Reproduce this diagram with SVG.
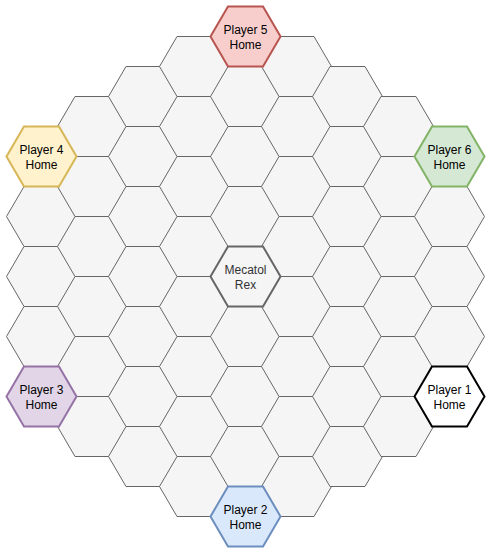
<svg xmlns="http://www.w3.org/2000/svg" xmlns:xlink="http://www.w3.org/1999/xlink" width="491" height="554" viewBox="0 0 491 554">
<style>
.t{fill:#f5f5f5;stroke:#666666;stroke-width:1}
.mr{fill:#f5f5f5;stroke:#666666;stroke-width:2}
.p1{fill:#ffffff;stroke:#000000;stroke-width:2}
.p2{fill:#dae8fc;stroke:#6c8ebf;stroke-width:2}
.p3{fill:#e1d5e7;stroke:#9673a6;stroke-width:2}
.p4{fill:#fff2cc;stroke:#d6b656;stroke-width:2}
.p5{fill:#f8cecc;stroke:#b85450;stroke-width:2}
.p6{fill:#d5e8d4;stroke:#82b366;stroke-width:2}
.l{font-family:"Liberation Sans",Arial,Helvetica,sans-serif;font-size:12px;text-anchor:middle;fill:#000000}
.lg{fill:#333333}
</style>
<defs>
<polygon id="h" points="-35,0 -17.5,-30 17.5,-30 35,0 17.5,30 -17.5,30"/>
</defs>
<rect width="491" height="554" fill="#ffffff"/>
<g id="grid">
<g id="h_m4_1"><use xlink:href="#h" class="t" x="41.5" y="216.5"/></g>
<g id="h_m4_2"><use xlink:href="#h" class="t" x="41.5" y="276.5"/></g>
<g id="h_m4_3"><use xlink:href="#h" class="t" x="41.5" y="336.5"/></g>
<g id="h_m3_0"><use xlink:href="#h" class="t" x="92.5" y="126.5"/></g>
<g id="h_m3_1"><use xlink:href="#h" class="t" x="92.5" y="186.5"/></g>
<g id="h_m3_2"><use xlink:href="#h" class="t" x="92.5" y="246.5"/></g>
<g id="h_m3_3"><use xlink:href="#h" class="t" x="92.5" y="306.5"/></g>
<g id="h_m3_4"><use xlink:href="#h" class="t" x="92.5" y="366.5"/></g>
<g id="h_m3_5"><use xlink:href="#h" class="t" x="92.5" y="426.5"/></g>
<g id="h_m2_0"><use xlink:href="#h" class="t" x="143.5" y="96.5"/></g>
<g id="h_m2_1"><use xlink:href="#h" class="t" x="143.5" y="156.5"/></g>
<g id="h_m2_2"><use xlink:href="#h" class="t" x="143.5" y="216.5"/></g>
<g id="h_m2_3"><use xlink:href="#h" class="t" x="143.5" y="276.5"/></g>
<g id="h_m2_4"><use xlink:href="#h" class="t" x="143.5" y="336.5"/></g>
<g id="h_m2_5"><use xlink:href="#h" class="t" x="143.5" y="396.5"/></g>
<g id="h_m2_6"><use xlink:href="#h" class="t" x="143.5" y="456.5"/></g>
<g id="h_m1_0"><use xlink:href="#h" class="t" x="194.5" y="66.5"/></g>
<g id="h_m1_1"><use xlink:href="#h" class="t" x="194.5" y="126.5"/></g>
<g id="h_m1_2"><use xlink:href="#h" class="t" x="194.5" y="186.5"/></g>
<g id="h_m1_3"><use xlink:href="#h" class="t" x="194.5" y="246.5"/></g>
<g id="h_m1_4"><use xlink:href="#h" class="t" x="194.5" y="306.5"/></g>
<g id="h_m1_5"><use xlink:href="#h" class="t" x="194.5" y="366.5"/></g>
<g id="h_m1_6"><use xlink:href="#h" class="t" x="194.5" y="426.5"/></g>
<g id="h_m1_7"><use xlink:href="#h" class="t" x="194.5" y="486.5"/></g>
<g id="h_0_1"><use xlink:href="#h" class="t" x="245.5" y="96.5"/></g>
<g id="h_0_2"><use xlink:href="#h" class="t" x="245.5" y="156.5"/></g>
<g id="h_0_3"><use xlink:href="#h" class="t" x="245.5" y="216.5"/></g>
<g id="h_0_5"><use xlink:href="#h" class="t" x="245.5" y="336.5"/></g>
<g id="h_0_6"><use xlink:href="#h" class="t" x="245.5" y="396.5"/></g>
<g id="h_0_7"><use xlink:href="#h" class="t" x="245.5" y="456.5"/></g>
<g id="h_1_0"><use xlink:href="#h" class="t" x="296.5" y="66.5"/></g>
<g id="h_1_1"><use xlink:href="#h" class="t" x="296.5" y="126.5"/></g>
<g id="h_1_2"><use xlink:href="#h" class="t" x="296.5" y="186.5"/></g>
<g id="h_1_3"><use xlink:href="#h" class="t" x="296.5" y="246.5"/></g>
<g id="h_1_4"><use xlink:href="#h" class="t" x="296.5" y="306.5"/></g>
<g id="h_1_5"><use xlink:href="#h" class="t" x="296.5" y="366.5"/></g>
<g id="h_1_6"><use xlink:href="#h" class="t" x="296.5" y="426.5"/></g>
<g id="h_1_7"><use xlink:href="#h" class="t" x="296.5" y="486.5"/></g>
<g id="h_2_0"><use xlink:href="#h" class="t" x="347.5" y="96.5"/></g>
<g id="h_2_1"><use xlink:href="#h" class="t" x="347.5" y="156.5"/></g>
<g id="h_2_2"><use xlink:href="#h" class="t" x="347.5" y="216.5"/></g>
<g id="h_2_3"><use xlink:href="#h" class="t" x="347.5" y="276.5"/></g>
<g id="h_2_4"><use xlink:href="#h" class="t" x="347.5" y="336.5"/></g>
<g id="h_2_5"><use xlink:href="#h" class="t" x="347.5" y="396.5"/></g>
<g id="h_2_6"><use xlink:href="#h" class="t" x="347.5" y="456.5"/></g>
<g id="h_3_0"><use xlink:href="#h" class="t" x="398.5" y="126.5"/></g>
<g id="h_3_1"><use xlink:href="#h" class="t" x="398.5" y="186.5"/></g>
<g id="h_3_2"><use xlink:href="#h" class="t" x="398.5" y="246.5"/></g>
<g id="h_3_3"><use xlink:href="#h" class="t" x="398.5" y="306.5"/></g>
<g id="h_3_4"><use xlink:href="#h" class="t" x="398.5" y="366.5"/></g>
<g id="h_3_5"><use xlink:href="#h" class="t" x="398.5" y="426.5"/></g>
<g id="h_4_1"><use xlink:href="#h" class="t" x="449.5" y="216.5"/></g>
<g id="h_4_2"><use xlink:href="#h" class="t" x="449.5" y="276.5"/></g>
<g id="h_4_3"><use xlink:href="#h" class="t" x="449.5" y="336.5"/></g>
</g>
<g id="mecatol"><use xlink:href="#h" class="mr" x="245.5" y="276.5"/><text class="l lg" x="245.5"><tspan x="245.5" y="274.1">Mecatol</tspan><tspan x="245.5" y="288.5">Rex</tspan></text></g>
<g id="player5"><use xlink:href="#h" class="p5" x="245.5" y="36.5"/><text class="l" x="245.5"><tspan x="245.5" y="34.1">Player 5</tspan><tspan x="245.5" y="48.5">Home</tspan></text></g>
<g id="player2"><use xlink:href="#h" class="p2" x="245.5" y="516.5"/><text class="l" x="245.5"><tspan x="245.5" y="514.1">Player 2</tspan><tspan x="245.5" y="528.5">Home</tspan></text></g>
<g id="player4"><use xlink:href="#h" class="p4" x="41.5" y="156.5"/><text class="l" x="41.5"><tspan x="41.5" y="154.1">Player 4</tspan><tspan x="41.5" y="168.5">Home</tspan></text></g>
<g id="player3"><use xlink:href="#h" class="p3" x="41.5" y="396.5"/><text class="l" x="41.5"><tspan x="41.5" y="394.1">Player 3</tspan><tspan x="41.5" y="408.5">Home</tspan></text></g>
<g id="player6"><use xlink:href="#h" class="p6" x="449.5" y="156.5"/><text class="l" x="449.5"><tspan x="449.5" y="154.1">Player 6</tspan><tspan x="449.5" y="168.5">Home</tspan></text></g>
<g id="player1"><use xlink:href="#h" class="p1" x="449.5" y="396.5"/><text class="l" x="449.5"><tspan x="449.5" y="394.1">Player 1</tspan><tspan x="449.5" y="408.5">Home</tspan></text></g>
<g id="connectors"/>
</svg>
